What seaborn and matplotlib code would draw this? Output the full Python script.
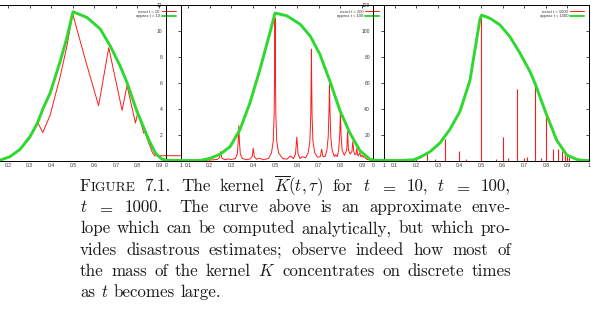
"""
Figura 7.1: nucleo K(t, tau) exacto frente a la envolvente aproximada,
para t = 10, 100 y 1000 (tres paneles solapados estilo gnuplot + pie).
"""
import matplotlib
matplotlib.use("Agg")
import matplotlib.pyplot as plt
import matplotlib.transforms as mtransforms
from matplotlib.lines import Line2D
import seaborn as sns

W, H, DPI = 591, 317, 100

RED   = "#ff1a1a"
GREEN = "#2fd82f"

# ---------------------------------------------------------------- datos
x_ticks       = [0.0, 0.1, 0.2, 0.3, 0.4, 0.5, 0.6, 0.7, 0.8, 0.9, 1.0]
x_tick_labels = ["0", "0.1", "0.2", "0.3", "0.4", "0.5", "0.6", "0.7", "0.8", "0.9", "1"]
# el primer panel empieza fuera del lienzo: "0" y "0.1" no se ven
x_tick_labels_10 = ["", "", "0.2", "0.3", "0.4", "0.5", "0.6", "0.7", "0.8", "0.9", "1"]

y_ticks_10    = [0, 2, 4, 6, 8, 10, 12]
y_labels_10   = ["", "2", "4", "6", "8", "10", "12"]
y_ticks_100   = [0, 20, 40, 60, 80, 100, 120]
y_labels_100  = ["", "20", "40", "60", "80", "100", "120"]
y_ticks_1000  = [0, 200, 400, 600, 800, 1000, 1200]
y_labels_1000 = ["", "", "", "", "", "", ""]

# t = 10
tau_approx_10 = [0.0, 0.16, 0.209, 0.256, 0.302, 0.336, 0.363, 0.395, 0.442, 0.473, 0.501,
                 0.566, 0.628, 0.674, 0.72, 0.752, 0.798, 0.814, 0.853, 0.884, 0.915, 0.95, 1.0]
k_approx_10   = [0.0, 0.0, 0.3, 0.87, 1.85, 2.89, 4.05, 5.2, 7.67, 9.49, 11.48,
                 11.04, 10.14, 8.84, 7.29, 6.0, 3.79, 3.15, 1.59, 0.56, 0.09, 0.0, 0.0]
tau_exact_10  = [0.25, 0.30, 0.336, 0.361, 0.395, 0.442, 0.473, 0.5, 0.558, 0.62, 0.667,
                 0.729, 0.752, 0.791, 0.803, 0.829, 0.835, 0.853, 0.87, 0.88, 1.0]
k_exact_10    = [0.75, 1.7, 2.97, 2.16, 3.5, 6.5, 8.84, 11.3, 7.8, 4.23, 8.71,
                 3.87, 5.79, 2.89, 3.79, 2.11, 2.2, 1.34, 0.6, 0.37, 0.37]

# t = 100
tau_approx_100 = [0.0, 0.156, 0.202, 0.248, 0.294, 0.339, 0.385, 0.431, 0.477, 0.5, 0.554,
                  0.615, 0.661, 0.706, 0.752, 0.798, 0.844, 0.89, 0.936, 0.96, 1.0]
k_approx_100   = [0, 0, 1.7, 4.8, 10.7, 23.7, 44.4, 70.3, 98.8, 113.8, 111.7,
                  105.2, 96.2, 81.9, 61.2, 38.5, 21.1, 7.5, 0.9, 0, 0]
tau_exact_100 = [0.0, 0.15, 0.2, 0.235,
                 0.244, 0.25, 0.256, 0.27,
                 0.286, 0.3,
                 0.318, 0.327, 0.331, 0.334, 0.337, 0.341, 0.35,
                 0.37, 0.385,
                 0.395, 0.4, 0.405, 0.415,
                 0.429, 0.445, 0.47,
                 0.484, 0.492, 0.496, 0.499, 0.5, 0.501, 0.504, 0.508, 0.516,
                 0.535, 0.555, 0.571, 0.585,
                 0.594, 0.6, 0.606,
                 0.615, 0.625, 0.64,
                 0.652, 0.66, 0.664, 0.666, 0.667, 0.668, 0.67, 0.674, 0.682,
                 0.695, 0.708, 0.714, 0.72, 0.73,
                 0.738, 0.744, 0.748, 0.75, 0.752, 0.756, 0.762,
                 0.772, 0.778, 0.786,
                 0.792, 0.797, 0.8, 0.803, 0.808,
                 0.818,
                 0.829, 0.833, 0.837,
                 0.845,
                 0.853, 0.857, 0.861,
                 0.866,
                 0.872, 0.875, 0.878,
                 0.882, 0.889, 0.894, 0.9, 0.905, 0.909, 0.92, 0.94, 1.0]
k_exact_100   = [0, 0, 0.3, 0.8,
                 2, 6.8, 2, 0.6,
                 1.2, 0.8,
                 1.5, 5, 14, 26.8, 14, 5, 1.5,
                 0.6, 1.2,
                 3, 9.5, 3, 1,
                 1.8, 0.6, 1.5,
                 6, 15, 35, 80, 110, 80, 35, 15, 6,
                 1.5, 1, 3.5, 1.5,
                 5, 18, 5,
                 1.5, 3, 2,
                 6, 15, 35, 65, 86, 65, 35, 15, 6,
                 2.5, 3, 8.7, 3, 3,
                 8, 18, 40, 59, 40, 18, 8,
                 3, 4.5, 3,
                 8, 20, 37.5, 20, 8,
                 4,
                 8, 22.4, 8,
                 5,
                 7, 14.6, 7,
                 4.5,
                 5, 9.5, 5,
                 3.5, 6, 3, 4, 2.5, 3, 1, 0.3, 0]

# t = 1000
tau_approx_1000 = [0.0, 0.125, 0.187, 0.218, 0.264, 0.31, 0.356, 0.403, 0.449, 0.495, 0.503,
                   0.542, 0.588, 0.634, 0.681, 0.727, 0.75, 0.798, 0.85, 0.897, 0.943, 0.97, 1.0]
k_approx_1000   = [0, 0, 5, 25, 68, 135, 240, 380, 619, 1090, 1122,
                   1097, 1046, 955, 827, 685, 596, 377, 158, 42, 9, 0, 0]
peaks_1000_tau = [0.2, 0.25, 0.286, 0.333, 0.4, 0.429, 0.5, 0.571, 0.6, 0.625, 0.667,
                  0.7, 0.714, 0.75, 0.778, 0.8, 0.833, 0.857, 0.875, 0.889, 0.9, 0.909]
peaks_1000_k   = [8, 68, 12, 164, 73, 8, 1110, 9, 179, 22, 549,
                   17, 29, 600, 22, 377, 89, 91, 76, 55, 35, 25]

caption_lines = [
    ["FIGURE", "7.1.", "The", "kernel", r"$\overline{K}(t,\tau)$", "for",
     "$t$", "$=$", "10,", "$t$", "$=$", "100,"],
    ["$t$", "$=$", "1000.", "The", "curve", "above", "is", "an", "approximate", "enve-"],
    ["lope", "which", "can", "be", "computed", "analytically,", "but", "which", "pro-"],
    ["vides", "disastrous", "estimates;", "observe", "indeed", "how", "most", "of"],
    ["the", "mass", "of", "the", "kernel", "$K$", "concentrates", "on", "discrete", "times"],
    ["as", "$t$", "becomes", "large."],
]

# ---------------------------------------------------------------- estilo
sns.set_style("white")
plt.rcParams["font.family"] = ["Liberation Sans", "DejaVu Sans"]
plt.rcParams["mathtext.fontset"] = "cm"

fig = plt.figure(figsize=(W / DPI, H / DPI), dpi=DPI)
fig.patch.set_facecolor("white")

AX_TOP, AX_BOTTOM = 5.0, 160.5  # en pixeles desde arriba

panels = [
    dict(t=10, left=-35.0, right=180.5, ymax=12, yt=y_ticks_10, yl=y_labels_10, ypad=-13.0,
         xl=x_tick_labels_10, exact=(tau_exact_10, k_exact_10), spikes=None,
         approx=(tau_approx_10, k_approx_10)),
    dict(t=100, left=166.0, right=384.0, ymax=120, yt=y_ticks_100, yl=y_labels_100, ypad=-10.0,
         xl=x_tick_labels, exact=(tau_exact_100, k_exact_100), spikes=None,
         approx=(tau_approx_100, k_approx_100)),
    dict(t=1000, left=373.0, right=589.0, ymax=1200, yt=y_ticks_1000, yl=y_labels_1000, ypad=-10.0,
         xl=x_tick_labels, exact=None, spikes=(peaks_1000_tau, peaks_1000_k),
         approx=(tau_approx_1000, k_approx_1000)),
]

for p in panels:
    ax = fig.add_axes([p["left"] / W, (H - AX_BOTTOM) / H,
                       (p["right"] - p["left"]) / W, (AX_BOTTOM - AX_TOP) / H])
    ax.patch.set_alpha(0.0)

    exact_label = f"exact t = {p['t']}"
    approx_label = f"approx t = {p['t']}"
    if p["exact"] is not None:
        sns.lineplot(x=p["exact"][0], y=p["exact"][1], ax=ax, color=RED, lw=0.7,
                     estimator=None, sort=False, zorder=3, legend=False)
    else:
        # con t grande el nucleo son picos casi verticales
        ax.vlines(p["spikes"][0], 0, p["spikes"][1], color=RED, lw=0.8, zorder=3)
    sns.lineplot(x=p["approx"][0], y=p["approx"][1], ax=ax, color=GREEN, lw=2.1,
                 estimator=None, sort=False, zorder=4, legend=False)

    ax.set_xlim(0, 1)
    ax.set_ylim(0, p["ymax"])
    ax.set_xticks(x_ticks)
    ax.set_xticklabels(p["xl"])
    ax.set_yticks(p["yt"])
    ax.set_yticklabels(p["yl"])
    ax.set_xlabel("")
    ax.set_ylabel("")

    for s in ax.spines.values():
        s.set_visible(True)
        s.set_color("black")
        s.set_linewidth(0.7)

    ax.tick_params(axis="both", direction="in", length=2.5, width=0.5, colors="black",
                   top=True, right=True, labelsize=3.6, labelcolor="#333333")
    ax.tick_params(axis="x", pad=1.5)
    # etiquetas del eje y dentro del panel, pegadas al borde derecho
    ax.tick_params(axis="y", labelleft=False, labelright=True, pad=p["ypad"])
    plt.setp(ax.yaxis.get_majorticklabels(), ha="right")

    handles = [Line2D([], [], color=RED, lw=0.7), Line2D([], [], color=GREEN, lw=1.4)]
    leg = ax.legend(handles, [exact_label, approx_label], loc="upper right", frameon=False,
                    fontsize=3.0, markerfirst=False, handlelength=3.4, handletextpad=0.5,
                    labelspacing=0.15, borderaxespad=0.9, borderpad=0.2)
    for txt in leg.get_texts():
        txt.set_color("#333333")

# ---------------------------------------------------------------- pie de figura
CAP_FS     = 12.2
CAP_LEFT   = 80.0
CAP_RIGHT  = 511.0
CAP_BASE0  = 191.0
CAP_STEP   = 21.2
CAP_COLOR  = "#1a1a1a"
SENTENCE_ENDS = {"1000."}

ident = mtransforms.IdentityTransform()
renderer = fig.canvas.get_renderer()


def word_parts(word):
    if word == "FIGURE":  # versalitas
        return [("F", CAP_FS), ("IGURE", CAP_FS * 0.8)]
    return [(word, CAP_FS)]


for i, words in enumerate(caption_lines):
    y = H - (CAP_BASE0 + i * CAP_STEP)
    items = []
    for w in words:
        parts = []
        for s, fs in word_parts(w):
            t = fig.text(0, y, s, fontsize=fs, family="cmr10", color=CAP_COLOR,
                         transform=ident, ha="left", va="baseline")
            parts.append((t, t.get_window_extent(renderer).width))
        items.append(parts)
    widths = [sum(wd for _, wd in parts) for parts in items]
    weights = [1.7 if w in SENTENCE_ENDS else 1.0 for w in words[:-1]]

    if i < len(caption_lines) - 1:
        unit = (CAP_RIGHT - CAP_LEFT - sum(widths)) / sum(weights)
    else:
        unit = CAP_FS * DPI / 72 * 0.333

    x = CAP_LEFT
    for j, parts in enumerate(items):
        for t, wd in parts:
            t.set_position((x, y))
            x += wd
        if j < len(weights):
            x += unit * weights[j]

fig.savefig("out.png", dpi=DPI, facecolor="white")
